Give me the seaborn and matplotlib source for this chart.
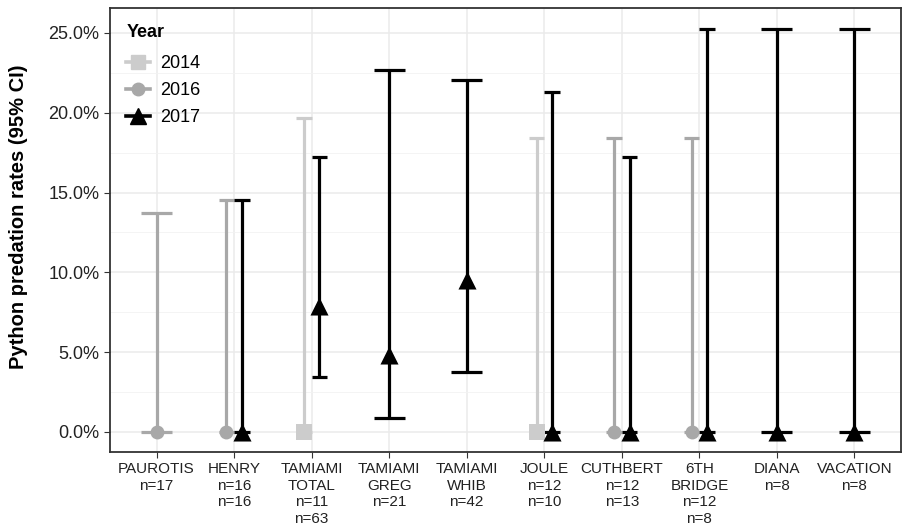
import numpy as np
import pandas as pd
import matplotlib
matplotlib.use('Agg')
import matplotlib.pyplot as plt
from matplotlib.lines import Line2D
import seaborn as sns

SITES = ['PAUROTIS', 'HENRY', 'TAMIAMI\nTOTAL', 'TAMIAMI\nGREG', 'TAMIAMI\nWHIB',
         'JOULE', 'CUTHBERT', '6TH\nBRIDGE', 'DIANA', 'VACATION']
SITE_N = ['n=17', 'n=16\nn=16', 'n=11\nn=63', 'n=21', 'n=42',
          'n=12\nn=10', 'n=12\nn=13', 'n=12\nn=8', 'n=8', 'n=8']

# one row per site/year estimate (percent)
site = ['PAUROTIS', 'HENRY', 'HENRY', 'TAMIAMI\nTOTAL', 'TAMIAMI\nTOTAL',
        'TAMIAMI\nGREG', 'TAMIAMI\nWHIB', 'JOULE', 'JOULE', 'CUTHBERT', 'CUTHBERT',
        '6TH\nBRIDGE', '6TH\nBRIDGE', 'DIANA', 'VACATION']
year = ['2016', '2016', '2017', '2014', '2017',
        '2017', '2017', '2014', '2017', '2016', '2017',
        '2016', '2017', '2017', '2017']
est = [0.0, 0.0, 0.0, 0.0, 7.9,
       4.8, 9.5, 0.0, 0.0, 0.0, 0.0,
       0.0, 0.0, 0.0, 0.0]
lower = [0.0, 0.0, 0.0, 0.0, 3.45,
         0.85, 3.75, 0.0, 0.0, 0.0, 0.0,
         0.0, 0.0, 0.0, 0.0]
upper = [13.7, 14.5, 14.5, 19.7, 17.25,
         22.65, 22.05, 18.4, 21.3, 18.4, 17.2,
         18.4, 25.25, 25.25, 25.25]

YEARS = ['2014', '2016', '2017']
COLORS = {'2014': '#CCCCCC', '2016': '#A8A8A8', '2017': '#000000'}
MARKERS = {'2014': 's', '2016': 'o', '2017': '^'}
MSIZE = {'2014': 11, '2016': 10, '2017': 13}

df = pd.DataFrame({'site': site, 'year': year, 'est': est, 'lower': lower, 'upper': upper})

# dodge like ggplot: width 0.4 shared among the years present at each site
width = 0.4
df['xpos'] = 0.0
df['w'] = 0.0
for s, g in df.groupby('site', sort=False):
    k = len(g)
    base = SITES.index(s)
    for j, idx in enumerate(g.sort_values('year').index):
        df.loc[idx, 'xpos'] = base - width / 2 + width / k * (j + 0.5)
        df.loc[idx, 'w'] = width / k

plt.rcParams['font.family'] = ['Liberation Sans', 'DejaVu Sans']
fig = plt.figure(figsize=(9.03, 5.27), dpi=100)
ax = fig.add_axes([0.1218, 0.1423, 0.876, 0.8425])

ax.set_xlim(-0.6, len(SITES) - 0.4)
ax.set_ylim(-1.265, 26.565)
ax.set_yticks([0, 5, 10, 15, 20, 25])
ax.set_yticks([2.5, 7.5, 12.5, 17.5, 22.5], minor=True)
ax.set_yticklabels([f'{v:.1f}%' for v in [0, 5, 10, 15, 20, 25]])
ax.set_xticks(range(len(SITES)))
ax.set_xticklabels([f'{s}\n{n}' for s, n in zip(SITES, SITE_N)], linespacing=1.22)
ax.grid(which='major', color='#EBEBEB', linewidth=1.1)
ax.grid(which='minor', axis='y', color='#F2F2F2', linewidth=0.6)
ax.set_axisbelow(True)

for y in YEARS:
    sub = df[df['year'] == y]
    c = COLORS[y]
    ax.vlines(sub['xpos'], sub['lower'], sub['upper'], color=c, linewidth=2.3, zorder=2)
    ax.hlines(sub['upper'], sub['xpos'] - sub['w'] / 2, sub['xpos'] + sub['w'] / 2,
              color=c, linewidth=2.3, zorder=2)
    ax.hlines(sub['lower'], sub['xpos'] - sub['w'] / 2, sub['xpos'] + sub['w'] / 2,
              color=c, linewidth=2.3, zorder=2)
    sns.scatterplot(data=sub, x='xpos', y='est', color=c, marker=MARKERS[y],
                    s=MSIZE[y] ** 2, linewidth=0, ax=ax, zorder=3, legend=False)

ax.set_xlabel('')
ax.set_ylabel('Python predation rates (95% CI)', fontsize=14.5, fontweight='bold')
ax.yaxis.set_label_coords(-0.104, 0.529)
ax.tick_params(axis='y', labelsize=13, colors='#333333', labelcolor='#222222', length=4)
ax.tick_params(axis='x', labelsize=11, colors='#333333', labelcolor='#222222', length=4)
ax.tick_params(which='minor', length=0)
for sp in ax.spines.values():
    sp.set_color('#333333')
    sp.set_linewidth(1.3)

handles = [Line2D([], [], color=COLORS[y], marker=MARKERS[y], markersize=MSIZE[y] * 0.9,
                  linewidth=2.6) for y in YEARS]
leg = ax.legend(handles, YEARS, title='Year', loc='upper left', frameon=False,
                fontsize=13, handlelength=1.3, handletextpad=0.6, labelspacing=0.55,
                borderaxespad=0.5, bbox_to_anchor=(0.0, 1.0))
leg.get_title().set_fontweight('bold')
leg.get_title().set_fontsize(13)
leg._legend_box.align = 'left'
leg._legend_box.sep = 10

fig.savefig('out.png', dpi=100)
